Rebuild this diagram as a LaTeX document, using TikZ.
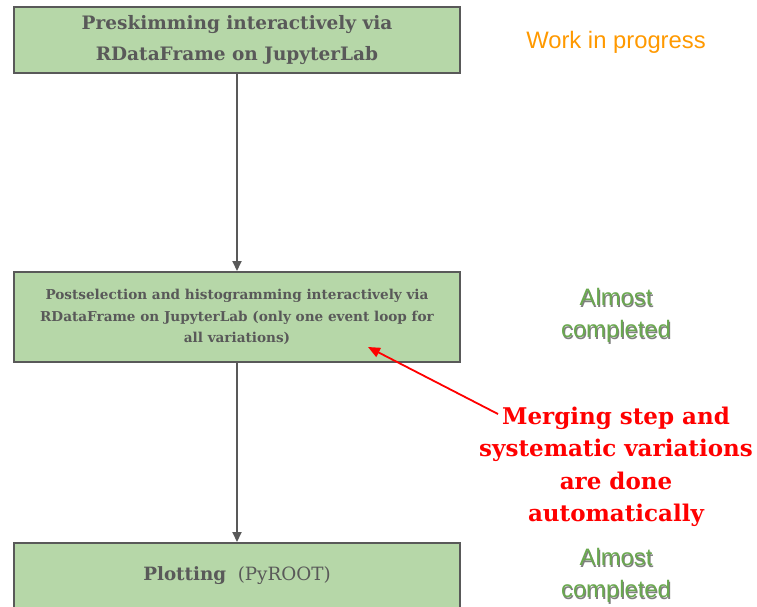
\documentclass[tikz,border=0pt]{standalone}
\usepackage{fontspec}
\setmainfont{DejaVu Serif}
\newfontfamily\notefont{Liberation Sans}
\usepackage{tikz}
\usetikzlibrary{arrows.meta,positioning}
\definecolor{boxgreen}{HTML}{B6D7A8}
\definecolor{boxgray}{HTML}{595959}
\definecolor{noteorange}{HTML}{FF9900}
\definecolor{notegreen}{HTML}{6AA84F}
\definecolor{shadowgray}{HTML}{7F7F7F}

\begin{document}
\begin{tikzpicture}[x=1pt, y=-1pt, >={Triangle[length=10pt,width=9pt]}]
   \clip (0,0) rectangle (757,606);
   \begin{scope}[every node/.style={draw=boxgray, line width=2pt, fill=boxgreen, text=boxgray, align=center, minimum width=446pt, font=\bfseries}]
    \node (pre) [minimum height=66pt, font=\bfseries\fontsize{18.5}{31}\selectfont] at (237,40) {Preskimming interactively via\\RDataFrame on JupyterLab};
    \node (post) [minimum height=90pt, font=\bfseries\fontsize{13.6}{21.5}\selectfont] at (237,317) {Postselection and histogramming interactively via\\RDataFrame on JupyterLab (only one event loop for\\all variations)};
    \node (plot) [minimum height=66pt, font=\fontsize{18.3}{20}\selectfont] at (237,576) {\textbf{Plotting} \ (PyROOT)};
   \end{scope}
   \begin{scope}[->, every edge/.style={draw=boxgray, line width=1.8pt}]
    \draw (pre) edge (post);
    \draw (post) edge (plot);
   \end{scope}
   % notes on the right
   \node (wip) [text=noteorange, font=\notefont\fontsize{23.8}{30}\selectfont] at (616,42) {Work in progress};
   \begin{scope}[every node/.style={align=center, font=\notefont\fontsize{23.8}{32}\selectfont}]
    \node (postnoteshadow) [text=shadowgray] at (617,317) {Almost\\completed};
    \node (postnote) [text=notegreen] at (616,315) {Almost\\completed};
    \node (plotnoteshadow) [text=shadowgray] at (617,577) {Almost\\completed};
    \node (plotnote) [text=notegreen] at (616,575) {Almost\\completed};
   \end{scope}
   \node (merge) [text=red, align=center, font=\bfseries\fontsize{23}{32.5}\selectfont] at (616,467) {Merging step and\\systematic variations\\are done\\automatically};
   \coordinate (mergetail) at (498,414);
   \coordinate (mergetip) at (368,347);
   \draw [->, red, line width=1.8pt, >={Triangle[length=12pt,width=10pt]}] (mergetail) -- (mergetip);
\end{tikzpicture}
\end{document}
